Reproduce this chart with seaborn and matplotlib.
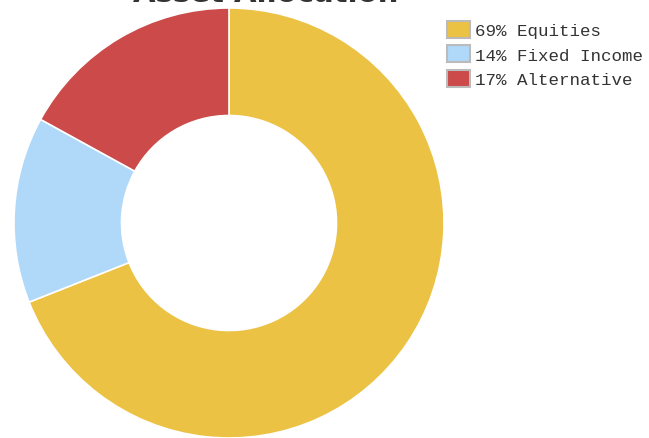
import matplotlib
matplotlib.use("Agg")
import matplotlib.pyplot as plt
import seaborn as sns

labels = ["Equities", "Fixed Income", "Alternative"]
shares = [69, 14, 17]
colors = ["#ECC244", "#B0D8F8", "#CC4A4A"]

sns.set_theme(style="white")
plt.rcParams["font.family"] = ["DejaVu Sans"]

fig = plt.figure(figsize=(6.49, 4.39), dpi=100)
ax = fig.add_axes([14 / 649, 0.0, 430 / 649, 430 / 439])

wedges, _ = ax.pie(shares, colors=colors, startangle=90, counterclock=False,
                   radius=1.0,
                   wedgeprops=dict(width=0.5, edgecolor="white", linewidth=1.2))
ax.set_xlim(-1, 1)
ax.set_ylim(-1, 1)
ax.set_aspect("equal")
ax.axis("off")

fig.text(0.41, 1 - 2 / 439, "Asset Allocation", ha="center", va="baseline",
         fontsize=21, fontweight="bold", color="#333333")

leg_labels = [f"{s}% {l}" for s, l in zip(shares, labels)]
leg = fig.legend(wedges, leg_labels, loc="upper left",
                 bbox_to_anchor=(438 / 649, 1 - 13 / 439),
                 frameon=False, handlelength=1.3, handleheight=1.1,
                 handletextpad=0.3, labelspacing=0.42, borderpad=0,
                 prop={"family": "Liberation Mono", "size": 12.6})
for h in leg.legend_handles:
    h.set_edgecolor("#BBBBBB")
    h.set_linewidth(1.5)
for t in leg.get_texts():
    t.set_color("#333333")

fig.savefig("out.png", dpi=100)
